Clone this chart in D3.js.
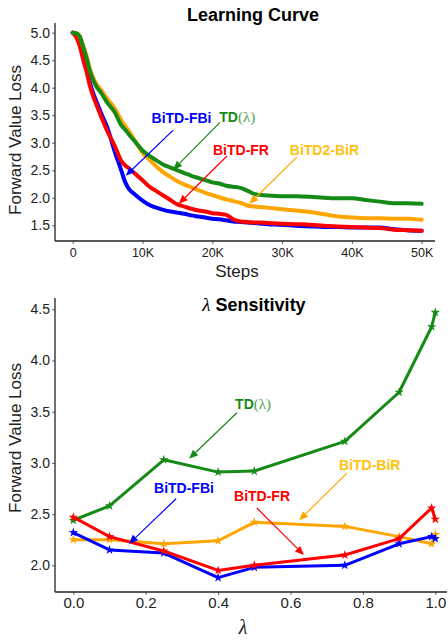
<!DOCTYPE html>
<html>
<head>
<meta charset="utf-8">
<script src="https://cdn.jsdelivr.net/npm/d3@7"></script>
<style>
  html, body { margin: 0; padding: 0; background: #fff; }
  svg { display: block; }
  text { font-family: "Liberation Sans", Arial, Helvetica, sans-serif; }
</style>
</head>
<body>
<script>
// ---------------- DATA ----------------
// Top chart: Learning Curve
const steps = [0,500,1000,1500,2000,2500,3000,3500,4000,5000,6000,7000,7500,8000,9000,10000,11000,12000,13000,14000,15000,16000,17000,18000,19000,20000,21000,22000,23000,24000,25000,26000,27000,28000,30000,32000,34000,36000,38000,40000,42000,44000,46000,48000,50000];
const lcTD    = [5.00,4.99,4.93,4.74,4.53,4.29,4.12,4.00,3.92,3.72,3.56,3.31,3.24,3.16,3.01,2.86,2.76,2.68,2.60,2.55,2.50,2.45,2.40,2.36,2.32,2.28,2.26,2.22,2.20,2.18,2.13,2.07,2.05,2.04,2.03,2.03,2.02,2.00,1.99,1.99,1.96,1.93,1.90,1.90,1.89];
const lcBiR   = [5.00,4.99,4.93,4.76,4.57,4.33,4.16,4.05,3.97,3.79,3.63,3.40,3.31,3.22,3.02,2.82,2.69,2.57,2.46,2.38,2.30,2.24,2.19,2.14,2.09,2.05,2.01,1.97,1.94,1.91,1.86,1.84,1.83,1.82,1.79,1.77,1.74,1.70,1.66,1.64,1.63,1.63,1.62,1.62,1.60];
const lcFR    = [5.00,4.92,4.76,4.51,4.28,4.02,3.82,3.66,3.50,3.20,2.95,2.66,2.59,2.54,2.43,2.32,2.20,2.12,2.04,1.96,1.88,1.84,1.80,1.77,1.75,1.72,1.71,1.69,1.61,1.57,1.56,1.55,1.55,1.54,1.53,1.52,1.51,1.49,1.48,1.47,1.46,1.45,1.42,1.41,1.40];
const lcFBi   = [5.00,4.95,4.82,4.58,4.34,4.07,3.88,3.72,3.56,3.26,2.85,2.48,2.29,2.17,2.05,1.95,1.87,1.82,1.78,1.75,1.73,1.71,1.68,1.66,1.64,1.62,1.61,1.59,1.57,1.56,1.55,1.54,1.53,1.52,1.51,1.49,1.48,1.47,1.47,1.46,1.46,1.46,1.43,1.41,1.40];
const lcXTicks = [0,10000,20000,30000,40000,50000];
const lcXTickLabels = ["0","10K","20K","30K","40K","50K"];
const lcYTicks = [1.5,2.0,2.5,3.0,3.5,4.0,4.5,5.0];

// Bottom chart: lambda sensitivity
const lambdas = [0,0.1,0.25,0.4,0.5,0.75,0.9,0.99,1.0];
const sTD  = [2.44,2.58,3.03,2.91,2.92,3.21,3.69,4.33,4.47];
const sBiR = [2.25,2.25,2.21,2.24,2.42,2.38,2.28,2.21,2.30];
const sFBi = [2.32,2.15,2.12,1.88,1.98,2.00,2.21,2.28,2.26];
const sFR  = [2.47,2.28,2.14,1.95,2.00,2.10,2.26,2.56,2.45];
const sXTicks = [0.0,0.2,0.4,0.6,0.8,1.0];
const sYTicks = [2.0,2.5,3.0,3.5,4.0,4.5];

// ---------------- STYLE ----------------
const C = { td: "#168a16", bir: "#ffa500", birText: "#ffc20e", fr: "#ff0000", fbi: "#0000ff" };

const svg = d3.select("body").append("svg").attr("width", 448).attr("height", 641);

function arrow(g, x1, y1, x2, y2, color) {
  const dx = x2 - x1, dy = y2 - y1, L = Math.hypot(dx, dy);
  const ux = dx / L, uy = dy / L, hl = 9, hw = 3.8;
  const bx = x2 - ux * hl, by = y2 - uy * hl;
  g.append("line").attr("x1", x1).attr("y1", y1).attr("x2", bx).attr("y2", by)
    .attr("stroke", color).attr("stroke-width", 1.2);
  g.append("path")
    .attr("d", `M${x2},${y2}L${bx - uy * hw},${by + ux * hw}L${bx + uy * hw},${by - ux * hw}Z`)
    .attr("fill", color);
}

function label(g, x, y, parts) {
  const t = g.append("text").attr("x", x).attr("y", y).attr("dy", "0.36em")
    .style("font-size", "14px").style("font-weight", "bold");
  parts.forEach(p => {
    const s = t.append("tspan").text(p.text).attr("fill", p.color);
    if (p.serif) s.style("font-family", "'Liberation Serif', 'DejaVu Serif', serif").style("font-weight", "normal").style("font-size", "15px");
  });
}

function styleAxis(g) {
  g.select(".domain").remove();
  g.selectAll(".tick line").attr("stroke", "#666").attr("stroke-width", 1);
  g.selectAll(".tick text").attr("fill", "#222");
}

// ================= TOP: Learning Curve =================
{
  const x = d3.scaleLinear().domain([0, 50000]).range([72.7, 421.7]);
  const y = d3.scaleLinear().domain([1.5, 5.0]).range([225.3, 32.7]);
  const g = svg.append("g");

  const gx = g.append("g").attr("transform", "translate(0,241)")
    .call(d3.axisBottom(x).tickValues(lcXTicks).tickFormat((d, i) => lcXTickLabels[i]).tickSize(3).tickPadding(4));
  gx.selectAll("text").style("font-size", "12.5px");
  styleAxis(gx);
  const gy = g.append("g").attr("transform", "translate(55,0)")
    .call(d3.axisLeft(y).tickValues(lcYTicks).tickFormat(d3.format(".1f")).tickSize(3).tickPadding(2));
  gy.selectAll("text").style("font-size", "14px");
  styleAxis(gy);
  g.append("line").attr("x1", 55).attr("x2", 435).attr("y1", 241).attr("y2", 241).attr("stroke", "#222").attr("stroke-width", 1.3);
  g.append("line").attr("x1", 55).attr("x2", 55).attr("y1", 23).attr("y2", 241).attr("stroke", "#222").attr("stroke-width", 1.3);

  const line = d3.line().x((d, i) => x(steps[i])).y(d => y(d)).curve(d3.curveMonotoneX);
  [[lcFBi, C.fbi], [lcFR, C.fr], [lcBiR, C.bir], [lcTD, C.td]].forEach(([vals, col]) => {
    g.append("path").datum(vals).attr("d", line).attr("fill", "none")
      .attr("stroke", col).attr("stroke-width", 4).attr("stroke-linejoin", "round").attr("stroke-linecap", "round");
  });

  arrow(g, x(14400), y(3.23), x(7600), y(2.40), C.fbi);
  label(g, x(11300), y(3.45), [{ text: "BiTD-FBi", color: C.fbi }]);
  arrow(g, x(21100), y(3.37), x(14400), y(2.51), C.td);
  label(g, x(21000), y(3.47), [{ text: "TD", color: C.td }, { text: "(λ)", color: "#4aa34a", serif: true }]);
  arrow(g, x(22100), y(2.76), x(15200), y(1.89), C.fr);
  label(g, x(20100), y(2.87), [{ text: "BiTD-FR", color: C.fr }]);
  arrow(g, x(32100), y(2.74), x(25300), y(1.89), C.bir);
  label(g, x(31100), y(2.87), [{ text: "BiTD2-BiR", color: C.birText }]);

  g.append("text").attr("x", 253).attr("y", 21).attr("text-anchor", "middle")
    .style("font-size", "18px").style("font-weight", "bold").text("Learning Curve");
  g.append("text").attr("x", 237).attr("y", 277).attr("text-anchor", "middle")
    .style("font-size", "17px").attr("fill", "#222").text("Steps");
  g.append("text").attr("transform", "translate(21,140) rotate(-90)").attr("text-anchor", "middle")
    .style("font-size", "17px").attr("fill", "#222").text("Forward Value Loss");
}

// ================= BOTTOM: λ Sensitivity =================
{
  const x = d3.scaleLinear().domain([0, 1]).range([73.3, 435.3]);
  const y = d3.scaleLinear().domain([2.0, 4.5]).range([565.3, 309.3]);
  const g = svg.append("g");

  const gx = g.append("g").attr("transform", "translate(0,592)")
    .call(d3.axisBottom(x).tickValues(sXTicks).tickFormat(d3.format(".1f")).tickSize(3).tickPadding(2));
  gx.selectAll("text").style("font-size", "15px");
  styleAxis(gx);
  const gy = g.append("g").attr("transform", "translate(55,0)")
    .call(d3.axisLeft(y).tickValues(sYTicks).tickFormat(d3.format(".1f")).tickSize(3).tickPadding(2));
  gy.selectAll("text").style("font-size", "14px");
  styleAxis(gy);
  g.append("line").attr("x1", 55).attr("x2", 447).attr("y1", 592).attr("y2", 592).attr("stroke", "#222").attr("stroke-width", 1.3);
  g.append("line").attr("x1", 55).attr("x2", 55).attr("y1", 298).attr("y2", 592).attr("stroke", "#222").attr("stroke-width", 1.3);

  const line = d3.line().x((d, i) => x(lambdas[i])).y(d => y(d));
  const star = d3.symbol().type(d3.symbolStar).size(28);
  [[sTD, C.td], [sBiR, C.bir], [sFBi, C.fbi], [sFR, C.fr]].forEach(([vals, col]) => {
    g.append("path").datum(vals).attr("d", line).attr("fill", "none")
      .attr("stroke", col).attr("stroke-width", 3).attr("stroke-linejoin", "round");
    g.selectAll(null).data(vals).join("path")
      .attr("transform", (d, i) => `translate(${x(lambdas[i])},${y(d)})`)
      .attr("d", star).attr("fill", col);
  });

  arrow(g, x(0.452), y(3.49), x(0.32), y(3.04), C.td);
  label(g, x(0.447), y(3.575), [{ text: "TD", color: C.td }, { text: "(λ)", color: "#4aa34a", serif: true }]);
  arrow(g, x(0.284), y(2.65), x(0.154), y(2.21), C.fbi);
  label(g, x(0.223), y(2.755), [{ text: "BiTD-FBi", color: C.fbi }]);
  arrow(g, x(0.507), y(2.56), x(0.637), y(2.10), C.fr);
  label(g, x(0.444), y(2.68), [{ text: "BiTD-FR", color: C.fr }]);
  arrow(g, x(0.756), y(2.90), x(0.624), y(2.44), C.bir);
  label(g, x(0.734), y(2.98), [{ text: "BiTD-BiR", color: C.birText }]);

  const t = g.append("text").attr("x", 254).attr("y", 311).attr("text-anchor", "middle")
    .style("font-size", "18px");
  t.append("tspan").text("λ").style("font-family", "'Liberation Serif', 'DejaVu Serif', serif").style("font-style", "italic").style("font-size", "19px");
  t.append("tspan").text(" Sensitivity").style("font-weight", "bold");
  g.append("text").attr("x", 243).attr("y", 634).attr("text-anchor", "middle")
    .style("font-family", "'Liberation Serif', 'DejaVu Serif', serif").style("font-style", "italic")
    .style("font-size", "20px").attr("fill", "#222").text("λ");
  g.append("text").attr("transform", "translate(21,438) rotate(-90)").attr("text-anchor", "middle")
    .style("font-size", "17px").attr("fill", "#222").text("Forward Value Loss");
}
</script>
</body>
</html>
